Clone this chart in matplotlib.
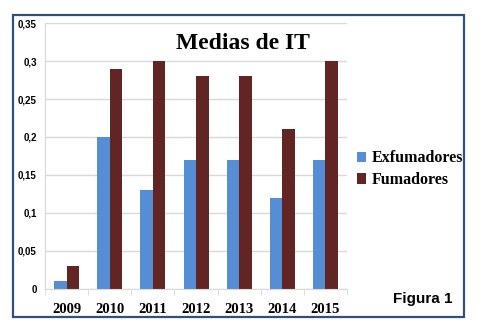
import matplotlib.pyplot as plt
import numpy as np
from matplotlib.patches import Rectangle
from matplotlib.ticker import FuncFormatter

# datos
anios = ['2009', '2010', '2011', '2012', '2013', '2014', '2015']
exfumadores = [0.01, 0.20, 0.13, 0.17, 0.17, 0.12, 0.17]
fumadores = [0.03, 0.29, 0.30, 0.28, 0.28, 0.21, 0.30]

fig = plt.figure(figsize=(4.88, 3.36), dpi=100)
ax = fig.add_axes([0.0922, 0.14, 0.619, 0.7915])

x = np.arange(len(anios))
w = 0.29
ax.bar(x - w/2, exfumadores, w, color='#558ED5', label='Exfumadores')
ax.bar(x + w/2, fumadores, w, color='#632523', label='Fumadores')

ax.set_xlim(-0.5, 6.5)
ax.set_ylim(0, 0.35)
ax.set_yticks(np.arange(0, 0.351, 0.05))
ax.yaxis.set_major_formatter(FuncFormatter(lambda v, p: ('%g' % round(v, 2)).replace('.', ',')))
ax.grid(axis='y', color='#D9D9D9', lw=1)
ax.set_axisbelow(True)
for s in ['top', 'right']:
    ax.spines[s].set_visible(False)
ax.spines['left'].set_color('#D9D9D9')
ax.spines['bottom'].set_color('#D9D9D9')

ax.set_xticks(x)
ax.set_xticklabels(anios, family='Liberation Serif', fontweight='bold', fontsize=10.5)
ax.set_xticks(np.arange(-0.5, 7, 1), minor=True)
ax.tick_params(axis='x', which='major', length=0, pad=10)
ax.tick_params(axis='x', which='minor', length=4, color='#D9D9D9')
ax.tick_params(axis='y', length=0, pad=6)
for lab in ax.get_yticklabels():
    lab.set_fontsize(7)
    lab.set_fontweight('bold')
    lab.set_family('Liberation Sans')

fig.text(0.498, 0.872, 'Medias de IT', family='Liberation Serif', fontweight='bold',
         fontsize=17, ha='center', va='center')

ax.legend(loc='center left', bbox_to_anchor=(0.985, 0.45), frameon=False,
          prop={'family': 'Liberation Serif', 'weight': 'bold', 'size': 11.5},
          handlelength=0.6, handleheight=0.6, handletextpad=0.3, labelspacing=0.35)

fig.text(0.805, 0.11, 'Figura 1', family='Liberation Sans', fontweight='bold',
         fontsize=11, ha='left', va='center')

fig.patches.append(Rectangle((0.0266, 0.0565), 0.924, 0.899, transform=fig.transFigure,
                             fill=False, edgecolor='#2F4F7F', lw=1.6))

fig.savefig('out.png', dpi=100)
